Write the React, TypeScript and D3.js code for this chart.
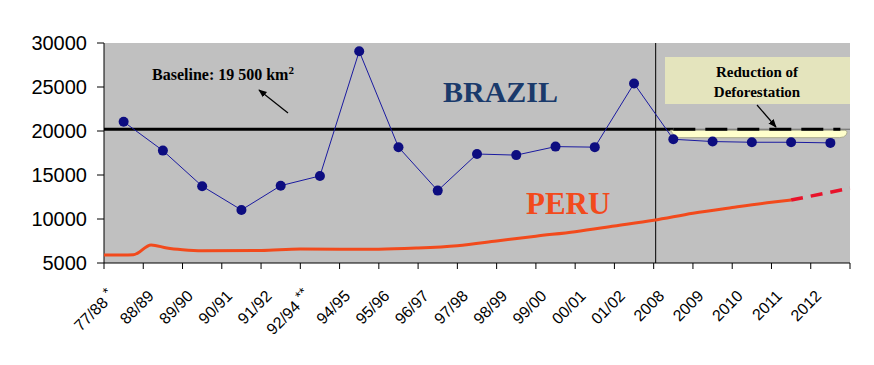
import React from "react";
import * as d3 from "d3";

// categories on the x axis (one band each)
const periods = [
  "77/88 *", "88/89", "89/90", "90/91", "91/92", "92/94 **", "94/95", "95/96",
  "96/97", "97/98", "98/99", "99/00", "00/01", "01/02", "2008", "2009", "2010",
  "2011", "2012",
];

// Brazil, one value per period (km2)
const brazil = [
  21050, 17770, 13730, 11030, 13786, 14896, 29059, 18161, 13227, 17383, 17259,
  18226, 18165, 25396, 19060, 18800, 18720, 18720, 18650,
];

// Peru curve, read along the axis (position in periods from the left edge)
const peruPos = [0, 0.75, 1.2, 1.6, 2, 2.5, 4, 5, 7, 8, 9, 10, 11, 12, 13, 14, 15, 16, 17, 17.5];
const peruVal = [
  5900, 5950, 7050, 6700, 6500, 6380, 6420, 6580, 6560, 6700, 6970, 7500, 8050,
  8560, 9200, 9850, 10650, 11300, 11900, 12150,
];
// projected part (dashed)
const peruProjPos = [17.5, 19];
const peruProjVal = [12150, 13500];

const baselineValue = 20200;
const yTicks = [5000, 10000, 15000, 20000, 25000, 30000];

const W = 874;
const H = 365;
const M = { left: 104, right: 24, top: 43, bottom: 102 };

const serif = "Liberation Serif, Times New Roman, serif";
const sans = "Liberation Sans, Arial, sans-serif";

export default function App() {
  const x = d3
    .scaleBand<string>()
    .domain(periods)
    .range([M.left, W - M.right])
    .padding(0);
  const pos = d3.scaleLinear().domain([0, periods.length]).range([M.left, W - M.right]);
  const y = d3.scaleLinear().domain([5000, 30000]).range([H - M.bottom, M.top]);

  const cx = (p: string) => (x(p) as number) + x.bandwidth() / 2;
  const axisY = y(5000);

  const brazilLine = d3
    .line<number>()
    .x((_, i) => cx(periods[i]))
    .y((d) => y(d));

  const peruLine = d3
    .line<number>()
    .x((_, i) => pos(peruPos[i]))
    .y((d) => y(d))
    .curve(d3.curveMonotoneX);
  const peruProj = d3
    .line<number>()
    .x((_, i) => pos(peruProjPos[i]))
    .y((d) => y(d));

  // future part (2008 onwards)
  const futureStart = x("2008") as number;
  const fx0 = cx("2008");
  const fx1 = cx("2012") + 14;
  const fTop = y(baselineValue) + 1;
  const fBot = y(d3.mean(brazil.slice(14)) as number) - 4;

  return (
    <svg
      width={W}
      height={H}
      style={{ position: "absolute", left: 0, top: 0, background: "#fff" }}
    >
      <defs>
        <marker id="ah" viewBox="0 0 10 10" refX="9" refY="5" markerWidth="7" markerHeight="7" orient="auto">
          <path d="M0,1 L10,5 L0,9 Z" fill="#000" />
        </marker>
      </defs>

      {/* plot area */}
      <rect x={M.left} y={M.top} width={W - M.right - M.left} height={axisY - M.top} fill="#c0c0c0" />

      {/* y axis */}
      <line x1={M.left} x2={M.left} y1={M.top} y2={axisY} stroke="#000" />
      {yTicks.map((t) => (
        <g key={t}>
          <line x1={M.left - 7} x2={M.left} y1={y(t)} y2={y(t)} stroke="#000" />
          <text x={M.left - 17} y={y(t)} dy="0.36em" textAnchor="end" fontFamily={sans} fontSize={20}>
            {t}
          </text>
        </g>
      ))}

      {/* x axis */}
      <line x1={M.left} x2={W - M.right} y1={axisY} y2={axisY} stroke="#000" />
      {d3.range(periods.length + 1).map((i) => (
        <line key={i} x1={pos(i)} x2={pos(i)} y1={axisY} y2={axisY + 6} stroke="#000" />
      ))}
      {periods.map((p) => {
        const m = p.match(/^(.*?)( \*+)?$/) as RegExpMatchArray;
        return (
          <text
            key={p}
            transform={`translate(${cx(p) - 8},${axisY + 34}) rotate(-45)`}
            textAnchor="end"
            fontFamily={sans}
            fontSize={16}
          >
            {m[1]}
            {m[2] ? (
              <tspan dx={4} dy={-5} fontSize={14}>
                {m[2].trim()}
              </tspan>
            ) : null}
          </text>
        );
      })}

      {/* divider between past data and projection */}
      <line x1={futureStart + 2} x2={futureStart + 2} y1={M.top} y2={axisY} stroke="#000" />

      {/* baseline */}
      <line x1={M.left} x2={fx0} y1={y(baselineValue)} y2={y(baselineValue)} stroke="#000" strokeWidth={3} />
      <line x1={fx0} x2={W - M.right} y1={y(baselineValue)} y2={y(baselineValue)} stroke="#666" strokeWidth={1} />

      {/* reduction area */}
      <path
        d={`M${fx0 - 3},${fTop} L${fx1},${fTop} Q${fx1 + 4},${fTop} ${fx1 + 2},${fBot - 3} Q${fx1},${fBot} ${fx1 - 5},${fBot} L${fx0 + 6},${fBot} Q${fx0 + 2},${fBot} ${fx0 - 3},${fTop} Z`}
        fill="#ffffcc"
        stroke="#9a9a80"
        strokeWidth={0.8}
      />
      <line
        x1={fx0}
        x2={fx1 - 4}
        y1={y(baselineValue)}
        y2={y(baselineValue)}
        stroke="#000"
        strokeWidth={3}
        strokeDasharray="22 10"
      />

      {/* Peru */}
      <path d={peruLine(peruVal) ?? ""} fill="none" stroke="#f24a1c" strokeWidth={3} />
      <path d={peruProj(peruProjVal) ?? ""} fill="none" stroke="#e8132b" strokeWidth={3.5} strokeDasharray="12 8" />

      {/* Brazil */}
      <path d={brazilLine(brazil) ?? ""} fill="none" stroke="#1a1aa0" strokeWidth={1} />
      {brazil.map((v, i) => (
        <circle key={i} cx={cx(periods[i])} cy={y(v)} r={5} fill="#0d0d80" />
      ))}

      {/* labels */}
      <text x={443} y={102} fontFamily={serif} fontWeight="bold" fontSize={30} fill="#1a3a6b">
        BRAZIL
      </text>
      <text x={526} y={214} fontFamily={serif} fontWeight="bold" fontSize={31} fill="#f24a1c">
        PERU
      </text>

      <text x={152} y={80} fontFamily={serif} fontWeight="bold" fontSize={16}>
        Baseline: 19 500 km
        <tspan dy={-6} fontSize={11}>2</tspan>
      </text>
      <line x1={288} y1={113} x2={259} y2={90} stroke="#000" strokeWidth={1.2} markerEnd="url(#ah)" />

      <rect x={665} y={57} width={185} height={47} fill="#e4e4bd" />
      <text x={757} y={77} textAnchor="middle" fontFamily={serif} fontWeight="bold" fontSize={15}>
        Reduction of
      </text>
      <text x={757} y={97} textAnchor="middle" fontFamily={serif} fontWeight="bold" fontSize={15}>
        Deforestation
      </text>
      <line x1={757} y1={105} x2={776} y2={127} stroke="#000" strokeWidth={1.2} markerEnd="url(#ah)" />
    </svg>
  );
}
